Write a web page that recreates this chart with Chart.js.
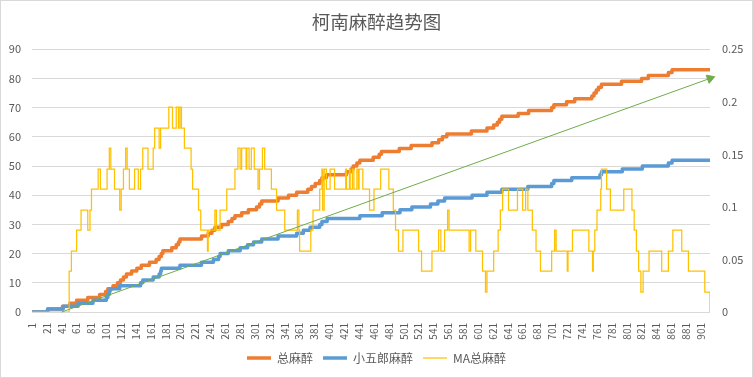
<!DOCTYPE html>
<html>
<head>
<meta charset="utf-8">
<title>柯南麻醉趋势图</title>
<script src="https://cdn.jsdelivr.net/npm/chart.js@4.4.1/dist/chart.umd.min.js"></script>
<style>
  html, body { margin: 0; padding: 0; background: #fff; }
  canvas { display: block; }
</style>
</head>
<body>
<canvas id="trendChart" width="753" height="378"></canvas>
<script>
// episode numbers printed under the x axis
const episodeTicks = [1, 21, 41, 61, 81, 101, 121, 141, 161, 181, 201, 221, 241, 261, 281, 301,
  321, 341, 361, 381, 401, 421, 441, 461, 481, 501, 521, 541, 561, 581, 601, 621, 641, 661,
  681, 701, 721, 741, 761, 781, 801, 821, 841, 861, 881, 901];
const firstEpisode = 1;
const lastEpisode = 913;
const leftTicks = [0, 10, 20, 30, 40, 50, 60, 70, 80, 90];
const rightTicks = [0, 0.05, 0.1, 0.15, 0.2, 0.25];

// [episode, value] - value holds until the next entry
const totalSteps = [[1,0],[22,1],[42,2],[52,3],[61,4],[76,5],[92,6],[100,7],[103,8],[110,9],[116,10],
  [120,11],[124,12],[128,13],[135,14],[142,15],[148,16],[159,17],[168,18],[172,19],[175,20],[177,21],
  [189,22],[195,23],[198,24],[200,25],[229,26],[238,27],[243,28],[247,29],[256,30],[265,31],[270,32],
  [274,33],[283,34],[292,35],[303,36],[307,37],[310,38],[332,39],[346,40],[357,41],[372,42],[377,43],
  [382,44],[388,45],[391,46],[397,47],[424,48],[430,49],[433,50],[438,51],[442,52],[460,53],[468,54],
  [471,55],[495,56],[511,57],[539,58],[548,59],[553,60],[559,61],[592,62],[613,63],[622,64],[627,65],
  [630,66],[633,67],[655,68],[669,69],[700,70],[703,71],[720,72],[731,73],[754,74],[757,75],[760,76],
  [763,77],[767,78],[794,79],[821,80],[830,81],[857,82],[862,83],[913,83]];

const kogoroSteps = [[1,0],[22,1],[43,2],[63,3],[83,4],[101,5],[103,6],[105,7],[106,8],[119,9],[147,10],
  [150,11],[164,12],[172,13],[174,14],[175,15],[200,16],[229,17],[245,18],[252,19],[254,20],[265,21],
  [281,22],[291,23],[299,24],[310,25],[332,26],[357,27],[366,28],[375,29],[388,30],[391,31],[398,32],
  [442,33],[472,34],[496,35],[512,36],[537,37],[547,38],[556,39],[593,40],[613,41],[633,42],[668,43],
  [700,44],[703,45],[727,46],[765,47],[767,48],[795,49],[822,50],[857,51],[862,52],[913,52]];

const maSteps = [[1,0],[51,.039],[54,.058],[61,.078],[67,.097],[76,.078],[79,.097],[81,.117],[90,.136],
  [93,.117],[102,.136],[105,.156],[107,.136],[112,.117],[119,.097],[121,.117],[124,.136],[127,.156],
  [129,.136],[132,.117],[139,.136],[144,.117],[147,.136],[150,.156],[157,.136],[164,.156],[166,.175],
  [172,.156],[174,.175],[185,.195],[190,.175],[195,.195],[198,.175],[200,.195],[202,.175],[206,.156],
  [215,.136],[217,.117],[225,.097],[228,.078],[237,.058],[238,.078],[247,.097],[249,.078],[254,.097],
  [263,.117],[274,.136],[278,.156],[281,.136],[283,.156],[289,.136],[290,.156],[293,.136],[296,.156],
  [300,.136],[305,.117],[307,.136],[311,.156],[314,.136],[323,.117],[330,.097],[341,.078],[358,.097],
  [360,.078],[361,.058],[376,.078],[379,.097],[388,.117],[391,.136],[392,.097],[394,.136],[397,.117],
  [402,.136],[408,.117],[423,.136],[424,.117],[428,.136],[429,.117],[432,.136],[434,.117],[438,.136],
  [440,.117],[441,.136],[446,.117],[455,.097],[461,.117],[470,.136],[481,.117],[487,.097],[490,.078],
  [494,.058],[500,.078],[521,.058],[525,.039],[539,.058],[548,.078],[551,.058],[556,.078],[560,.097],
  [562,.078],[589,.058],[591,.078],[598,.058],[607,.039],[611,.019],[613,.039],[622,.058],[628,.078],
  [631,.097],[634,.117],[642,.097],[654,.117],[661,.097],[665,.117],[668,.097],[674,.078],[679,.058],
  [685,.039],[700,.058],[704,.078],[706,.058],[721,.039],[722,.058],[728,.078],[750,.058],[755,.039],
  [756,.058],[758,.078],[761,.097],[766,.117],[767,.136],[774,.117],[779,.097],[797,.117],[808,.097],
  [811,.078],[814,.058],[817,.039],[820,.019],[823,.039],[831,.058],[848,.039],[857,.058],[863,.078],
  [875,.058],[884,.039],[906,.019],[913,0]];

// green arrow drawn over the plot
const trendLine = [[41,0],[913,80]];

const toPoints = steps => steps.map(([x, y]) => ({x, y}));

Chart.defaults.font.family = '"Noto Sans CJK SC", "Noto Sans", sans-serif';
Chart.defaults.color = '#595959';

// white background + thin grey frame like the spreadsheet chart
const chartFrame = {
  id: 'chartFrame',
  beforeDraw(chart) {
    const c = chart.ctx;
    c.save();
    c.fillStyle = '#ffffff';
    c.fillRect(0, 0, chart.width, chart.height);
    c.strokeStyle = '#d9d9d9';
    c.lineWidth = 1;
    c.strokeRect(0.5, 0.5, chart.width - 1, chart.height - 1);
    c.restore();
  }
};

new Chart(document.getElementById('trendChart'), {
  type: 'line',
  data: {
    datasets: [{
      label: '总麻醉',
      data: toPoints(totalSteps),
      yAxisID: 'y',
      borderColor: '#ED7D31',
      backgroundColor: '#ED7D31',
      borderWidth: 3.5,
      stepped: 'before',
      pointRadius: 0,
      borderJoinStyle: 'round',
      order: 3
    }, {
      label: '小五郎麻醉',
      data: toPoints(kogoroSteps),
      yAxisID: 'y',
      borderColor: '#5B9BD5',
      backgroundColor: '#5B9BD5',
      borderWidth: 3.5,
      stepped: 'before',
      pointRadius: 0,
      borderJoinStyle: 'round',
      order: 2
    }, {
      label: 'MA总麻醉',
      data: toPoints(maSteps),
      yAxisID: 'y1',
      borderColor: '#FFC000',
      backgroundColor: '#FFC000',
      borderWidth: 1.25,
      stepped: 'before',
      pointRadius: 0,
      order: 1
    }, {
      label: 'trend',
      data: toPoints(trendLine),
      yAxisID: 'y',
      borderColor: '#70AD47',
      backgroundColor: '#70AD47',
      borderWidth: 1,
      pointStyle: 'triangle',
      pointRadius: [0, 5],
      pointRotation: 70,
      clip: false,
      order: 0
    }]
  },
  options: {
    responsive: false,
    animation: false,
    events: [],
    layout: { padding: { top: 0, right: 0, bottom: 4, left: 0 } },
    plugins: {
      title: {
        display: true,
        text: '柯南麻醉趋势图',
        color: '#595959',
        font: { size: 18.5, weight: 'normal' },
        padding: { top: 11, bottom: 16 }
      },
      legend: {
        position: 'bottom',
        labels: {
          usePointStyle: true,
          pointStyle: 'line',
          pointStyleWidth: 24,
          padding: 10,
          color: '#595959',
          font: { size: 12 },
          filter: item => item.datasetIndex !== 3,
          sort: (a, b) => a.datasetIndex - b.datasetIndex
        }
      },
      tooltip: { enabled: false }
    },
    scales: {
      x: {
        type: 'linear',
        min: firstEpisode,
        max: lastEpisode,
        afterBuildTicks: s => { s.ticks = episodeTicks.map(v => ({ value: v })); },
        afterFit: s => { s.height = 30; },
        grid: { display: false },
        border: { display: false },
        ticks: { autoSkip: false, minRotation: 90, maxRotation: 90, padding: 3, font: { size: 10 } }
      },
      y: {
        min: 0,
        max: 90,
        afterBuildTicks: s => { s.ticks = leftTicks.map(v => ({ value: v })); },
        afterFit: s => { s.width = 32; },
        grid: { color: '#d9d9d9', drawTicks: false },
        border: { display: false },
        ticks: { padding: 11, font: { size: 11 } }
      },
      y1: {
        position: 'right',
        min: 0,
        max: 0.25,
        afterBuildTicks: s => { s.ticks = rightTicks.map(v => ({ value: v })); },
        afterFit: s => { s.width = 43; },
        grid: { drawOnChartArea: false, drawTicks: false },
        border: { display: false },
        ticks: { padding: 12, font: { size: 11 }, callback: v => String(+v.toFixed(2)) }
      }
    }
  },
  plugins: [chartFrame]
});
</script>
</body>
</html>
